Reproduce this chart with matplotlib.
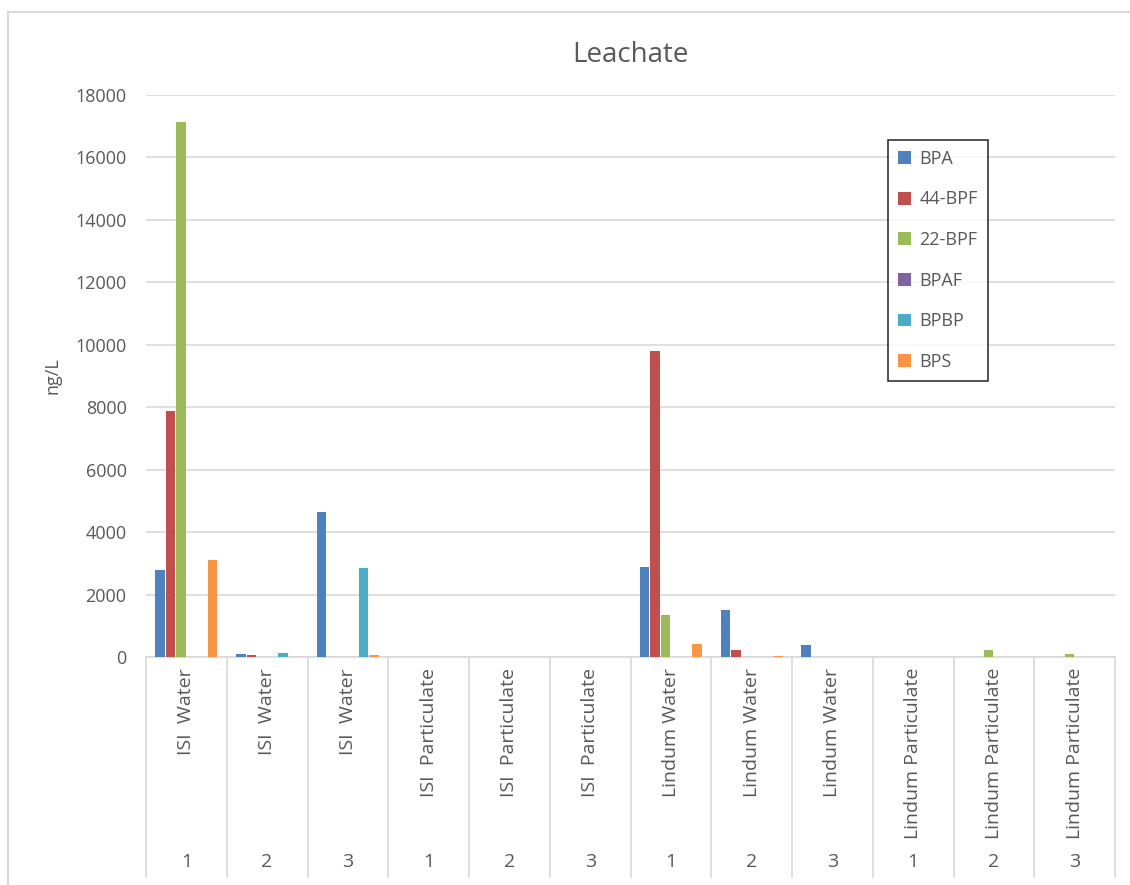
import matplotlib
matplotlib.use("Agg")
import matplotlib.pyplot as plt
import numpy as np
from matplotlib.lines import Line2D
from matplotlib.transforms import blended_transform_factory

plt.rcParams['font.family'] = ['Open Sans', 'DejaVu Sans']

categories = ["ISI  Water", "ISI  Water", "ISI  Water",
              "ISI  Particulate", "ISI  Particulate", "ISI  Particulate",
              "Lindum Water", "Lindum Water", "Lindum Water",
              "Lindum Particulate", "Lindum Particulate", "Lindum Particulate"]
replicates = ["1", "2", "3", "1", "2", "3", "1", "2", "3", "1", "2", "3"]

series_names = ["BPA", "44-BPF", "22-BPF", "BPAF", "BPBP", "BPS"]
BPA   = [2780, 110, 4655, 0, 0, 0, 2870, 1500, 400, 0, 0, 10]
BPF44 = [7865, 77, 0, 0, 0, 0, 9810, 215, 0, 0, 0, 0]
BPF22 = [17120, 0, 0, 0, 0, 0, 1360, 0, 0, 15, 225, 100]
BPAF  = [0, 0, 0, 0, 0, 0, 0, 0, 0, 0, 0, 0]
BPBP  = [0, 130, 2850, 0, 0, 0, 0, 0, 0, 0, 0, 0]
BPS   = [3100, 0, 50, 0, 0, 0, 430, 30, 0, 0, 0, 0]
series = [BPA, BPF44, BPF22, BPAF, BPBP, BPS]
colors = ["#4F81BD", "#C0504D", "#9BBB59", "#8064A2", "#4BACC6", "#F79646"]

W, H = 1130, 885
fig = plt.figure(figsize=(W / 100, H / 100), dpi=100)

# outer chart border (top and left visible)
fig.add_artist(Line2D([8 / W, 1.0], [1 - 12 / H, 1 - 12 / H], color="#D9D9D9", lw=1.5, transform=fig.transFigure))
fig.add_artist(Line2D([8 / W, 8 / W], [0, 1 - 12 / H], color="#D9D9D9", lw=1.5, transform=fig.transFigure))

left, right, top, bottom = 146, 1115, 95, 657
ax = fig.add_axes([left / W, 1 - bottom / H, (right - left) / W, (bottom - top) / H])

n = len(categories)
x = np.arange(n)
step = 0.13
bw = 0.115
for i, (name, vals, c) in enumerate(zip(series_names, series, colors)):
    ax.bar(x - 0.39 + step * (i + 0.5), vals, width=bw, color=c, label=name, zorder=3)

ax.set_xlim(-0.5, n - 0.5)
ax.set_ylim(0, 18000)
ax.set_yticks(np.arange(0, 18001, 2000))
ax.yaxis.grid(True, color="#D9D9D9", lw=1.2, zorder=0)
ax.tick_params(axis="y", length=0, labelsize=13, colors="#595959", pad=14)
for s in ["top", "right", "left"]:
    ax.spines[s].set_visible(False)
ax.spines["bottom"].set_color("#D9D9D9")
ax.spines["bottom"].set_linewidth(1.2)

ax.set_xticks(x)
ax.set_xticklabels(categories, rotation=90, va="top", ha="center", fontsize=14, color="#595959")
ax.tick_params(axis="x", length=0, pad=8)

ax.set_ylabel("ng/L", fontsize=13, color="#595959", labelpad=10)
ax.set_title("Leachate", fontsize=20, color="#595959", pad=24)

# category separators and replicate labels
ax_h = bottom - top
y_end = -(877 - bottom) / ax_h
trans = blended_transform_factory(ax.transData, ax.transAxes)
for b in np.arange(-0.5, n, 1.0):
    ax.add_line(Line2D([b, b], [0, y_end], color="#D9D9D9", lw=1.2,
                       transform=trans, clip_on=False))
for xi, r in zip(x, replicates):
    ax.text(xi, -(862 - bottom) / ax_h, r, transform=trans, ha="center", va="center",
            fontsize=14, color="#595959")

leg = fig.legend(loc="upper left", bbox_to_anchor=(888 / W, 1 - 140 / H), fontsize=13,
                 frameon=True, fancybox=False, edgecolor="black", handlelength=0.7,
                 handleheight=0.7, labelspacing=1.25, borderpad=0.55, handletextpad=0.5,
                 borderaxespad=0)
leg.get_frame().set_linewidth(1.2)
for t in leg.get_texts():
    t.set_color("#595959")

fig.savefig("out.png", dpi=100)
